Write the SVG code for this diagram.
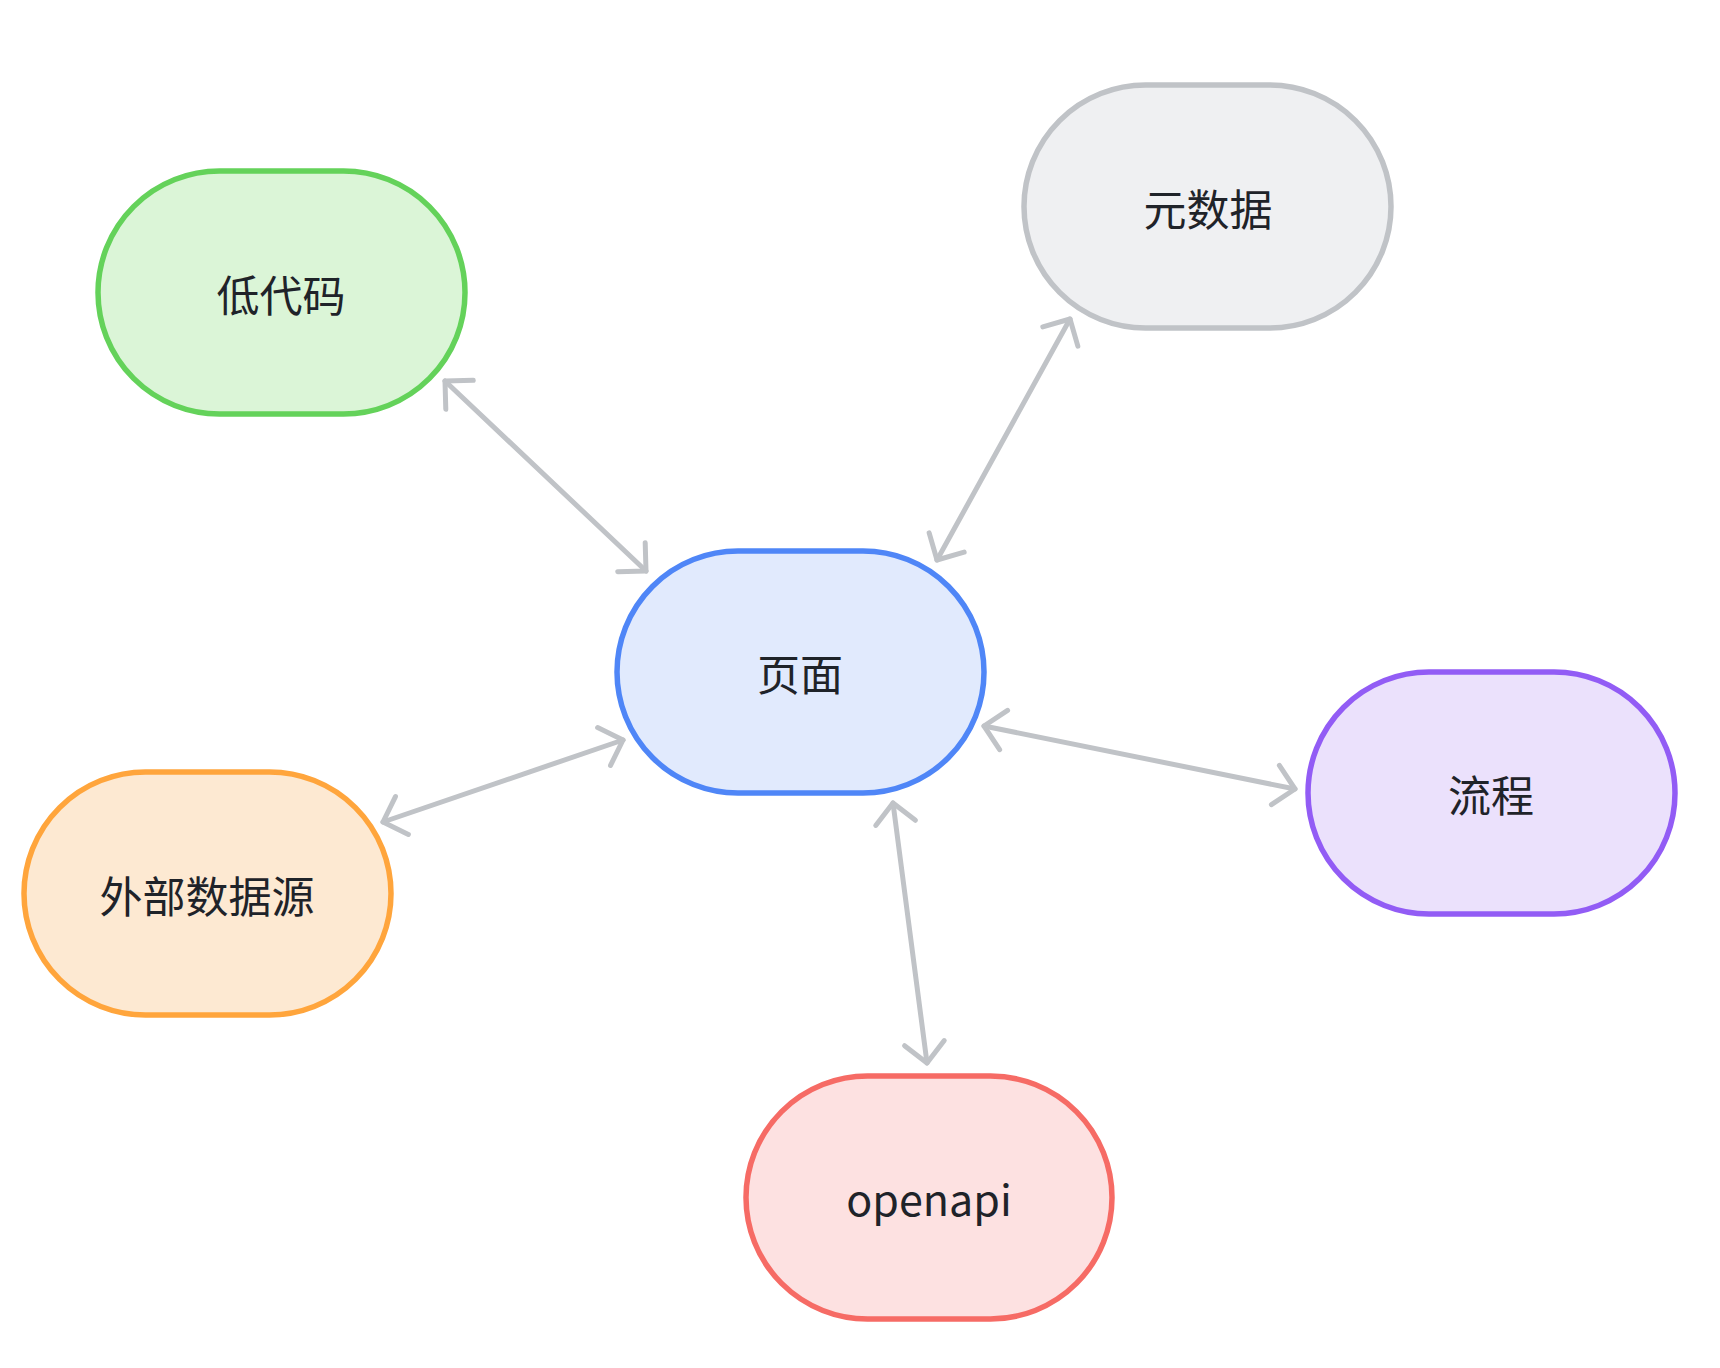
<svg xmlns="http://www.w3.org/2000/svg" width="1720" height="1368" viewBox="0 0 1720 1368">
<defs>
<style>
.node rect{stroke-width:5.5}
.label{font-family:"Noto Sans CJK SC","Noto Sans",sans-serif;font-size:43px;fill:#1f2329;text-anchor:middle;dominant-baseline:central}
.edge{stroke:#c0c3c7;stroke-width:5;fill:none;stroke-linecap:round;marker-start:url(#arr);marker-end:url(#arr)}
</style>
<marker id="arr" markerUnits="userSpaceOnUse" viewBox="-25 -25 30 50" refX="0" refY="0" markerWidth="30" markerHeight="50" orient="auto-start-reverse" overflow="visible">
<path d="M-20,-20 L0,0 L-20,20" fill="none" stroke="#c0c3c7" stroke-width="5" stroke-linecap="round" stroke-linejoin="round"/>
</marker>
</defs>
<rect width="1720" height="1368" fill="#ffffff"/>
<g id="connectors">
<line class="edge" x1="445" y1="381" x2="646" y2="571"/>
<line class="edge" x1="1070" y1="319" x2="937" y2="560"/>
<line class="edge" x1="383" y1="822" x2="623" y2="740"/>
<line class="edge" x1="984" y1="726" x2="1295" y2="789"/>
<line class="edge" x1="893" y1="803" x2="927" y2="1063"/>
</g>
<g id="node-lowcode" class="node">
<rect x="98" y="171" width="367" height="243" rx="121.5" ry="121.5" fill="#dbf5d7" stroke="#64d25a"/>
<text class="label" x="281" y="293">低代码</text>
</g>
<g id="node-metadata" class="node">
<rect x="1024" y="85" width="367" height="243" rx="121.5" ry="121.5" fill="#eff0f2" stroke="#c0c3c7"/>
<text class="label" x="1208" y="207">元数据</text>
</g>
<g id="node-page" class="node">
<rect x="617" y="551" width="367" height="242" rx="121" ry="121" fill="#e1eafd" stroke="#4f86f7"/>
<text class="label" x="800" y="672">页面</text>
</g>
<g id="node-flow" class="node">
<rect x="1308" y="672" width="367" height="242" rx="121" ry="121" fill="#ebe1fc" stroke="#925cf5"/>
<text class="label" x="1491" y="793">流程</text>
</g>
<g id="node-external" class="node">
<rect x="24" y="772" width="367" height="243" rx="121.5" ry="121.5" fill="#fde9d2" stroke="#ffa53c"/>
<text class="label" x="207" y="894">外部数据源</text>
</g>
<g id="node-openapi" class="node">
<rect x="746" y="1076" width="366" height="243" rx="121.5" ry="121.5" fill="#fde1e1" stroke="#f66b65"/>
<text class="label" x="929" y="1197">openapi</text>
</g>
</svg>
